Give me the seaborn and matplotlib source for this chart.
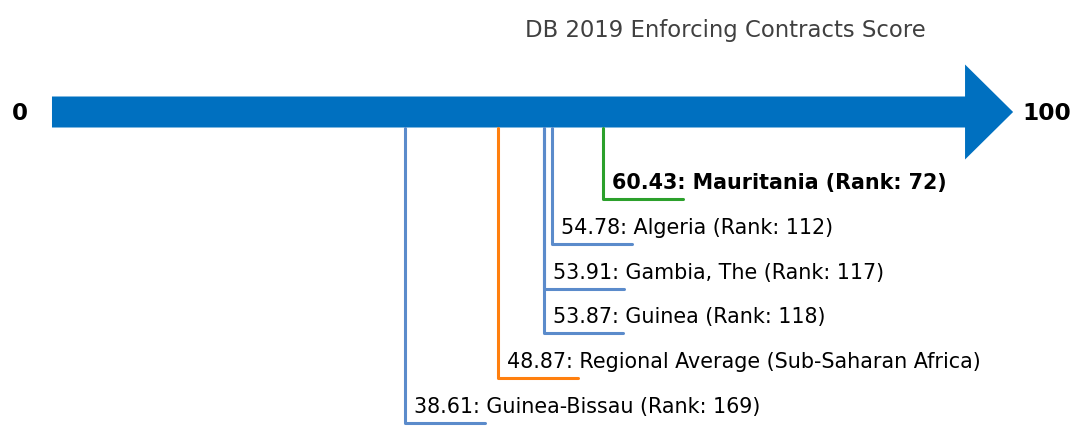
import pandas as pd
import matplotlib.pyplot as plt
import seaborn as sns
from matplotlib.patches import FancyArrow

# scores
names = ["Mauritania (Rank: 72)", "Algeria (Rank: 112)", "Gambia, The (Rank: 117)",
         "Guinea (Rank: 118)", "Regional Average (Sub-Saharan Africa)", "Guinea-Bissau (Rank: 169)"]
scores = [60.43, 54.78, 53.91, 53.87, 48.87, 38.61]
kinds = ["focus", "peer", "peer", "peer", "region", "peer"]

colors = {"focus": "#2ca02c", "peer": "#5b8bcb", "region": "#ff7f0e"}

sns.set_theme(style="white")
plt.rcParams["font.family"] = ["DejaVu Sans"]
fig = plt.figure(figsize=(10.71, 4.27), dpi=100)
ax = fig.add_axes([0, 0, 1, 1])
ax.set_xlim(-6.06, 112.0)
ax.set_ylim(427, 0)
ax.axis("off")

arrow_y = 113
row_top = 200
row_gap = 44.8
tail = 8.8

# the big arrow from 0 to 100
ax.add_patch(FancyArrow(-0.33, arrow_y, 105.95, 0, width=31, head_width=95, head_length=5.3,
                        length_includes_head=True, color="#0070c0", lw=0))
ax.text(-3.9, arrow_y, "0", ha="center", va="center", fontsize=16.5, fontweight="bold", color="black")
ax.text(106.6, arrow_y, "100", ha="left", va="center", fontsize=16.8, fontweight="bold", color="black")

for i, (name, score, kind) in enumerate(zip(names, scores, kinds)):
    y = row_top + i * row_gap
    seg = pd.DataFrame({"x": [score, score, score + tail],
                        "y": [arrow_y + 15.5, y, y]})
    sns.lineplot(data=seg, x="x", y="y", sort=False, estimator=None,
                 color=colors[kind], lw=2.2, ax=ax)
    ax.text(score + 1.0, y - 17, f"{score:.2f}: {name}", ha="left", va="center",
            fontsize=14.9, color="black",
            fontweight="bold" if kind == "focus" else "normal")

ax.set_xlabel("")
ax.set_ylabel("")
fig.text(725 / 1071, 1 - 30 / 427, "DB 2019 Enforcing Contracts Score",
         ha="center", va="center", fontsize=16.4, color="#404040")

fig.savefig("out.png", dpi=100)
